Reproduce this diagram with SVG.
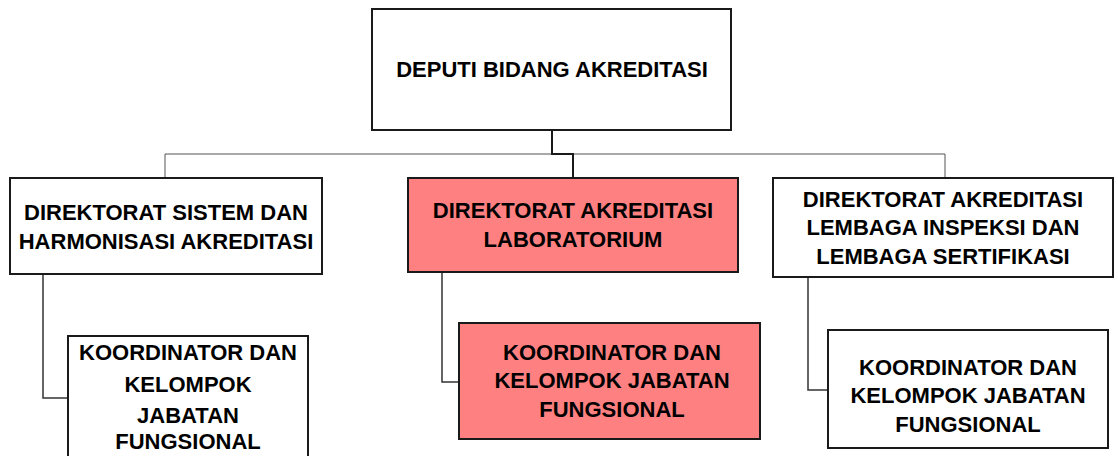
<svg xmlns="http://www.w3.org/2000/svg" width="1118" height="456" viewBox="0 0 1118 456">
<style>
.box{fill:#fff;stroke:#1a1a1a;stroke-width:2}
.hl{fill:#ff8080}
.t{font-family:"Liberation Sans",Arial,sans-serif;font-weight:bold;font-size:22px;fill:#000;text-anchor:middle}
.c{fill:none;stroke:#333;stroke-width:1.5}
.thin{fill:none;stroke:#555;stroke-width:1}
.thick{fill:none;stroke:#1a1a1a;stroke-width:2}
</style>
<rect width="1118" height="456" fill="#fff"/>
<g id="connectors">
<polyline class="thin" points="165,178 165,154 945,154 945,178"/>
<polyline class="thick" points="552,130 552,154 573,154 573,178"/>
<polyline class="c" points="43,274 43,398 68,398"/>
<polyline class="c" points="442,272 442,382 459,382"/>
<polyline class="c" points="808,277 808,390 828,390"/>
</g>
<g id="deputi">
<rect class="box" x="372" y="9" width="359" height="121"/>
<text class="t" x="552" y="77">DEPUTI BIDANG AKREDITASI</text>
</g>
<g id="dir-sistem">
<rect class="box" x="10" y="178" width="312" height="96"/>
<text class="t" x="166" y="220">DIREKTORAT SISTEM DAN</text>
<text class="t" x="166" y="249">HARMONISASI AKREDITASI</text>
</g>
<g id="dir-lab">
<rect class="box hl" x="408" y="178" width="330" height="94"/>
<text class="t" x="573" y="218">DIREKTORAT AKREDITASI</text>
<text class="t" x="573" y="247">LABORATORIUM</text>
</g>
<g id="dir-lilsp">
<rect class="box" x="773" y="178" width="340" height="99"/>
<text class="t" x="943" y="207">DIREKTORAT AKREDITASI</text>
<text class="t" x="943" y="235">LEMBAGA INSPEKSI DAN</text>
<text class="t" x="943" y="264">LEMBAGA SERTIFIKASI</text>
</g>
<g id="kjf-sistem">
<rect class="box" x="68" y="336" width="240" height="130"/>
<text class="t" x="188" y="360">KOORDINATOR DAN</text>
<text class="t" x="188" y="392">KELOMPOK</text>
<text class="t" x="188" y="423">JABATAN</text>
<text class="t" x="188" y="449">FUNGSIONAL</text>
</g>
<g id="kjf-lab">
<rect class="box hl" x="459" y="323" width="301" height="116"/>
<text class="t" x="612" y="360">KOORDINATOR DAN</text>
<text class="t" x="612" y="388">KELOMPOK JABATAN</text>
<text class="t" x="612" y="417">FUNGSIONAL</text>
</g>
<g id="kjf-lilsp">
<rect class="box" x="828" y="330" width="280" height="118"/>
<text class="t" x="968" y="375">KOORDINATOR DAN</text>
<text class="t" x="968" y="403">KELOMPOK JABATAN</text>
<text class="t" x="968" y="432">FUNGSIONAL</text>
</g>
</svg>
